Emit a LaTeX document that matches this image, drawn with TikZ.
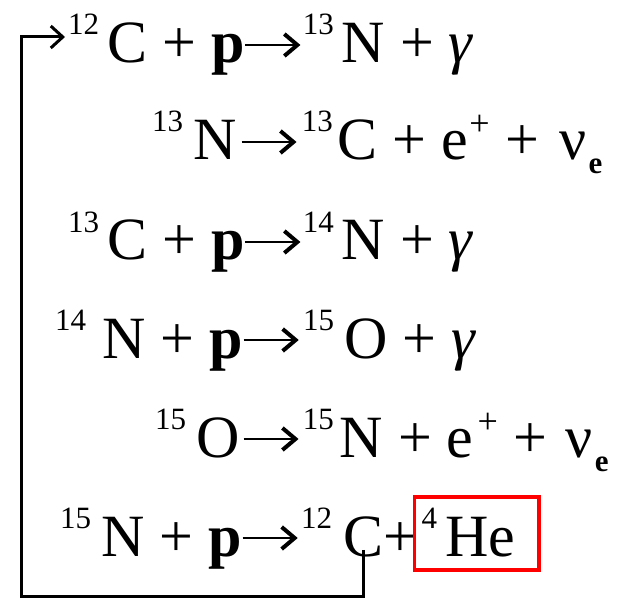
\documentclass[tikz,border=0pt]{standalone}
\usepackage{fontspec}
\setmainfont{Liberation Serif}
\usetikzlibrary{arrows.meta}
\newcommand\isup[1]{\raisebox{28pt}{\fontsize{31}{31}\selectfont #1}}
\newcommand\esub{\raisebox{-14pt}{\fontsize{31}{31}\selectfont\bfseries e}}
\newcommand\psup{\raisebox{24pt}{\fontsize{36}{36}\selectfont +}}
\newcommand\rar{\tikz[baseline=0pt]{\path (0pt,0pt) (58pt,0pt);
  \draw[line width=2pt,-{Straight Barb[length=13pt,width=22pt,line width=4pt]}] (1pt,18pt) -- (56pt,18pt);}}
\newcommand\gam{\textit{γ}}
\tikzset{
  eq/.style={anchor=base west, inner sep=0pt, font=\fontsize{60}{62}\selectfont},
  loopline/.style={line width=3pt, line join=miter},
  hebox/.style={draw=red, line width=3.2pt, inner sep=0pt, text height=59pt, text depth=14pt,
    anchor=base west, font=\fontsize{60}{62}\selectfont}
}
\begin{document}
\begin{tikzpicture}[x=1pt,y=-1pt]
\useasboundingbox (0,0) rectangle (622,599);
\node[eq] (l1) at (68,63) {\isup{12}\kern8pt C + \textbf{p}\rar\isup{13}\kern8pt N + \gam};
\node[eq] (l2) at (152,160) {\isup{13}\kern10pt N\kern4pt\rar\kern3pt\isup{13}\kern5pt C + e\kern1pt\psup\ \kern1pt+ \kern5ptν\kern2pt\esub};
\node[eq] (l3) at (68,260) {\isup{13}\kern8pt C + \textbf{p}\rar\isup{14}\kern8pt N + \gam};
\node[eq] (l4) at (55,358) {\isup{14}\kern16pt N + \textbf{p}\rar\kern2pt\isup{15}\kern10pt O + \gam};
\node[eq] (l5) at (155,457) {\isup{15}\kern10pt O\kern3pt\rar\kern2pt\isup{15}\kern6pt N + e\kern4pt\psup\ \kern1pt+ \kern3ptν\kern2pt\esub};
\node[eq] (l6) at (60,556) {\isup{15}\kern10pt N + \textbf{p}\rar\kern1pt\isup{12}\kern11pt};
\node[eq] (c6) at (l6.base east) {C};
\node[eq] (p6) at (c6.base east) {+};
\node[hebox] (he) at ([xshift=-5pt]p6.base east) {\kern7pt\isup{4}\kern8pt He\kern24pt};
\coordinate (in1) at ([xshift=-3pt,yshift=26pt]l1.base west);
\coordinate (bl) at (21,596);
\draw[loopline, -{Straight Barb[length=12pt,width=22pt,line width=3pt]}]
  ([yshift=7pt]c6.south) -- (c6.south |- bl) -- (bl) |- (in1);
\end{tikzpicture}
\end{document}
